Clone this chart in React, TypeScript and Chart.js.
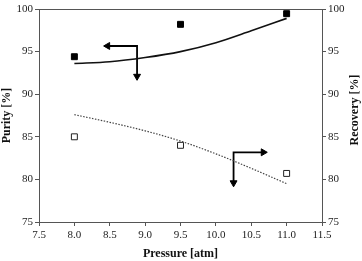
import React, { useEffect, useRef } from "react";
import { Chart, registerables } from "chart.js";

Chart.register(...registerables);

// Measured purity / recovery versus feed pressure
const pressure = [8.0, 9.5, 11.0];
const purityMeasured = [94.4, 98.2, 99.45];
const recoveryMeasured = [85.0, 84.0, 80.7];

// Model curves evaluated on a finer pressure grid
const fitPressure = [8.0, 8.5, 9.0, 9.5, 10.0, 10.5, 11.0];
const purityFit = [93.6, 93.8, 94.3, 95.0, 96.05, 97.45, 98.9];
const recoveryFit = [87.6, 86.7, 85.7, 84.5, 83.0, 81.3, 79.5];

// Arrows showing which axis each curve belongs to (tail, corner, head)
const purityArrowX = [8.47, 8.886, 8.886];
const purityArrowY = [95.66, 95.66, 92.1];
const recoveryArrowX = [10.25, 10.25, 10.67];
const recoveryArrowY = [79.6, 83.18, 83.18];

const xTicks = [7.5, 8.0, 8.5, 9.0, 9.5, 10.0, 10.5, 11.0, 11.5];
const yTicks = [75, 80, 85, 90, 95, 100];

const FONT = "'Liberation Serif', 'Times New Roman', serif";
const AXIS = "#555";

const zip = (xs: number[], ys: number[]) => xs.map((x, i) => ({ x, y: ys[i] }));

const framePlugin = {
  id: "frameAndRightTitle",
  afterDraw(chart: any) {
    const { ctx, chartArea } = chart;
    ctx.save();
    ctx.strokeStyle = AXIS;
    ctx.lineWidth = 1;
    ctx.beginPath();
    ctx.moveTo(chartArea.left, chartArea.top + 0.5);
    ctx.lineTo(chartArea.right, chartArea.top + 0.5);
    ctx.stroke();
    // right-hand axis title, reading bottom to top
    ctx.translate(355, 110);
    ctx.rotate(-Math.PI / 2);
    ctx.font = `bold 12px ${FONT}`;
    ctx.fillStyle = "#111";
    ctx.textAlign = "center";
    ctx.textBaseline = "middle";
    ctx.fillText("Recovery [%]", 0, 0);
    ctx.restore();
  },
};

export default function App() {
  const ref = useRef<HTMLCanvasElement>(null);

  useEffect(() => {
    if (!ref.current) return;
    const tickFont = { family: FONT, size: 11 };
    const grid = {
      drawOnChartArea: false,
      drawTicks: true,
      tickLength: 4,
      color: AXIS,
    };
    const arrowStyle = {
      borderColor: "#000",
      backgroundColor: "#000",
      borderWidth: 1.8,
      pointStyle: "triangle" as const,
      pointBorderWidth: 1,
      tension: 0,
    };
    const chart = new Chart(ref.current, {
      type: "line",
      data: {
        datasets: [
          {
            data: zip(pressure, purityMeasured),
            showLine: false,
            pointStyle: "rect",
            pointRadius: 4.2,
            backgroundColor: "#000",
            borderColor: "#000",
            borderWidth: 1,
            yAxisID: "y",
          },
          {
            data: zip(pressure, recoveryMeasured),
            showLine: false,
            pointStyle: "rect",
            pointRadius: 4.2,
            backgroundColor: "#fff",
            borderColor: "#222",
            borderWidth: 1,
            yAxisID: "y2",
          },
          {
            data: zip(fitPressure, purityFit),
            borderColor: "#111",
            borderWidth: 1.6,
            pointRadius: 0,
            tension: 0.4,
            cubicInterpolationMode: "monotone",
            yAxisID: "y",
          },
          {
            data: zip(fitPressure, recoveryFit),
            borderColor: "#444",
            borderWidth: 1.2,
            borderDash: [1.5, 1.5],
            pointRadius: 0,
            tension: 0.4,
            cubicInterpolationMode: "monotone",
            yAxisID: "y2",
          },
          {
            ...arrowStyle,
            data: zip(purityArrowX, purityArrowY),
            pointRadius: [4, 0, 4],
            rotation: [-90, 0, 180],
            yAxisID: "y",
          },
          {
            ...arrowStyle,
            data: zip(recoveryArrowX, recoveryArrowY),
            pointRadius: [4, 0, 4],
            rotation: [180, 0, 90],
            yAxisID: "y2",
          },
        ],
      },
      options: {
        responsive: false,
        animation: false,
        events: [],
        layout: { padding: { top: 9, left: 0, right: 0, bottom: 0 } },
        plugins: { legend: { display: false }, tooltip: { enabled: false } },
        scales: {
          x: {
            type: "linear",
            min: xTicks[0],
            max: xTicks[xTicks.length - 1],
            afterBuildTicks: (s: any) => {
              s.ticks = xTicks.map((v) => ({ value: v }));
            },
            afterFit: (s: any) => {
              s.height = 39;
            },
            ticks: {
              font: tickFont,
              color: "#222",
              padding: 3,
              maxRotation: 0,
              autoSkip: false,
              callback: (v: any) => Number(v).toFixed(1),
            },
            grid,
            border: { color: AXIS },
            title: {
              display: true,
              text: "Pressure [atm]",
              font: { family: FONT, size: 12, weight: "bold" },
              color: "#111",
              padding: { top: 2, bottom: 0 },
            },
          },
          y: {
            position: "left",
            min: yTicks[0],
            max: yTicks[yTicks.length - 1],
            afterBuildTicks: (s: any) => {
              s.ticks = yTicks.map((v) => ({ value: v }));
            },
            afterFit: (s: any) => {
              s.width = 39;
            },
            ticks: { font: tickFont, color: "#222", padding: 2 },
            grid,
            border: { color: AXIS },
            title: {
              display: true,
              text: "Purity [%]",
              font: { family: FONT, size: 12, weight: "bold" },
              color: "#111",
              padding: 0,
            },
          },
          y2: {
            position: "right",
            min: yTicks[0],
            max: yTicks[yTicks.length - 1],
            afterBuildTicks: (s: any) => {
              s.ticks = yTicks.map((v) => ({ value: v }));
            },
            afterFit: (s: any) => {
              s.width = 40;
            },
            ticks: { font: tickFont, color: "#222", padding: 2 },
            grid,
            border: { color: AXIS },
          },
        },
      },
      plugins: [framePlugin],
    });
    return () => chart.destroy();
  }, []);

  return (
    <div style={{ position: "fixed", left: 0, top: 0, width: 362, height: 261, background: "#fff" }}>
      <canvas ref={ref} width={362} height={261} />
    </div>
  );
}
